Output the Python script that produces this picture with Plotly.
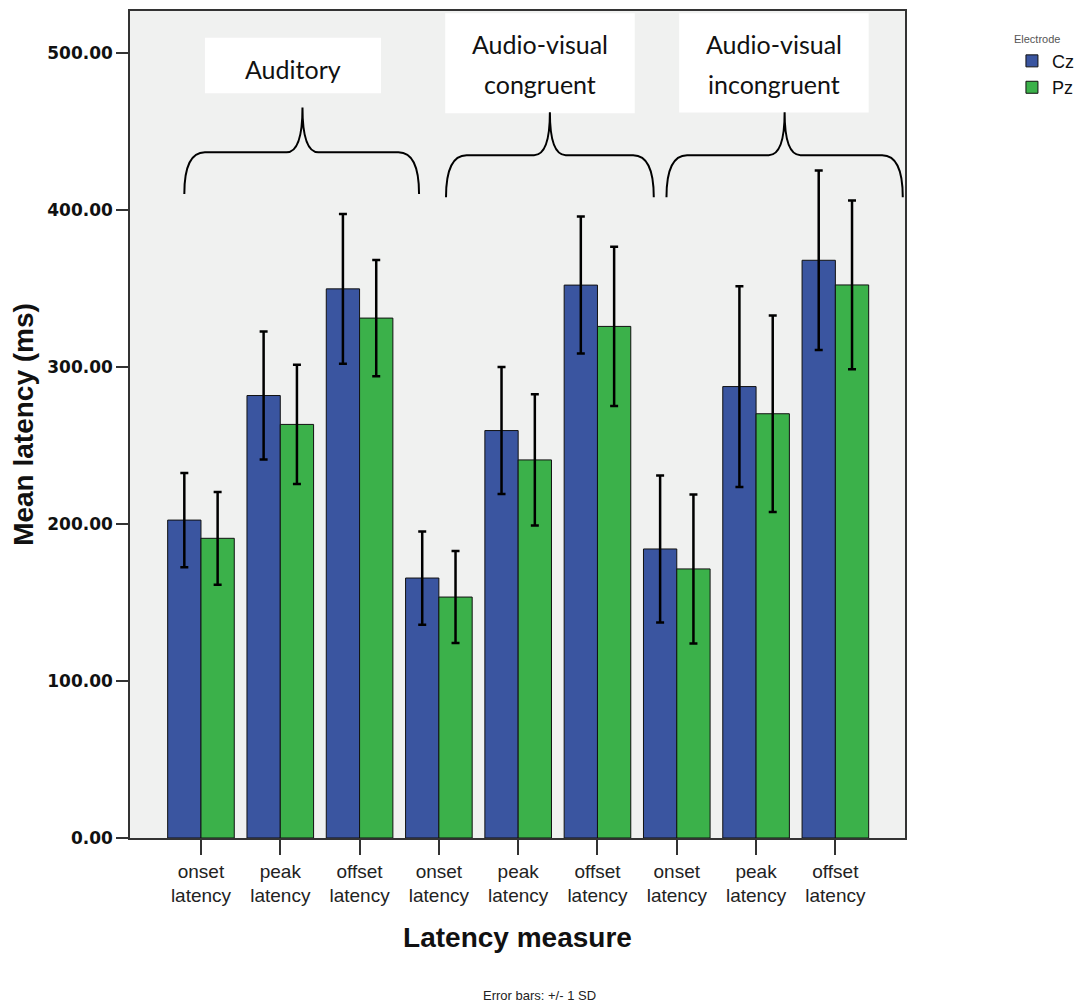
import plotly.graph_objects as go

# ---- data ----
measure_labels = ["onset<br>latency", "peak<br>latency", "offset<br>latency",
                  "onset<br>latency", "peak<br>latency", "offset<br>latency",
                  "onset<br>latency", "peak<br>latency", "offset<br>latency"]
cz_mean = [202.4, 281.7, 349.6, 165.5, 259.4, 352.0, 184.0, 287.4, 367.8]
pz_mean = [190.8, 263.3, 331.0, 153.4, 240.7, 325.7, 171.3, 270.1, 352.1]
cz_sd = [30.0, 40.8, 47.6, 29.7, 40.4, 43.6, 46.8, 63.9, 57.2]
pz_sd = [29.5, 38.0, 37.0, 29.3, 41.8, 50.7, 47.4, 62.6, 53.7]
y_ticks = [0, 100, 200, 300, 400, 500]

group_lines = [["Auditory"], ["Audio-visual", "congruent"], ["Audio-visual", "incongruent"]]
group_center = [1.16, 4.27, 7.22]
box_left = [0.05, 3.08, 6.03]
box_right = [2.27, 5.47, 8.42]
box_top = [509.5, 525.0, 525.0]
box_bottom = [474.1, 461.4, 461.9]
line_y = [[489.7], [505.4, 480.0], [505.4, 480.0]]

brace_left = [-0.21, 3.09, 5.87]
brace_right = [2.75, 5.71, 8.85]
brace_tip = [1.28, 4.40, 7.36]
brace_bottom = [410.0, 408.0, 408.0]
brace_mid = [436.5, 434.7, 434.7]
brace_top = [465.0, 462.0, 462.0]

CZ_COLOR = "#3A55A0"
PZ_COLOR = "#3BB14A"
x_pos = list(range(len(measure_labels)))

fig = go.Figure()
fig.add_bar(x=x_pos, y=cz_mean, name="Cz",
            marker=dict(color=CZ_COLOR, line=dict(color="#111", width=1)),
            error_y=dict(type="data", array=cz_sd, color="black", thickness=2.5, width=4))
fig.add_bar(x=x_pos, y=pz_mean, name="Pz",
            marker=dict(color=PZ_COLOR, line=dict(color="#111", width=1)),
            error_y=dict(type="data", array=pz_sd, color="black", thickness=2.5, width=4))

shapes = []
annotations = []
for i in range(3):
    shapes.append(dict(type="rect", xref="x", yref="y",
                       x0=box_left[i], x1=box_right[i], y0=box_bottom[i], y1=box_top[i],
                       fillcolor="white", line=dict(width=0), layer="above"))
    L, R, M = brace_left[i], brace_right[i], brace_tip[i]
    yb, ym, yt = brace_bottom[i], brace_mid[i], brace_top[i]
    c, d = 0.26, 0.2
    path = (f"M {L},{yb} Q {L},{ym} {L+c},{ym} L {M-d},{ym} Q {M},{ym} {M},{yt} "
            f"Q {M},{ym} {M+d},{ym} L {R-c},{ym} Q {R},{ym} {R},{yb}")
    shapes.append(dict(type="path", xref="x", yref="y", path=path,
                       line=dict(color="black", width=2), fillcolor="rgba(0,0,0,0)",
                       layer="above"))
    for txt, yy in zip(group_lines[i], line_y[i]):
        annotations.append(dict(x=group_center[i], y=yy, xref="x", yref="y", text=txt,
                                showarrow=False,
                                font=dict(family="Lato, Open Sans, sans-serif", size=25, color="#111")))

annotations.append(dict(x=0.529, y=-0.19, xref="paper", yref="paper", yanchor="middle",
                        text="Error bars: +/- 1 SD", showarrow=False,
                        font=dict(family="Liberation Sans, Arial", size=13, color="#222")))

fig.update_layout(
    width=1081, height=1000,
    margin=dict(l=122, r=184, t=1, b=170),
    paper_bgcolor="white", plot_bgcolor="#F0F1F0",
    barmode="group", bargap=0.16, bargroupgap=0,
    shapes=shapes, annotations=annotations,
    legend=dict(x=1.138, y=0.979, xanchor="left", yanchor="top",
                title=dict(text="Electrode", font=dict(family="Liberation Sans, Arial", size=11, color="#555")),
                font=dict(family="Liberation Sans, Arial", size=18, color="#111"),
                bgcolor="rgba(0,0,0,0)"),
    xaxis=dict(range=[-0.895, 8.878], tickvals=x_pos, ticktext=measure_labels,
               ticks="outside", ticklen=15, tickwidth=1.5, tickcolor="#333",
               showline=True, linecolor="#333", linewidth=1.5, mirror=True,
               showgrid=False, zeroline=False,
               tickfont=dict(family="Liberation Sans, Arial", size=19, color="#222"),
               title=dict(text="Latency measure", standoff=22,
                          font=dict(family="Liberation Sans, Arial", size=28, color="#111", weight="bold"))),
    yaxis=dict(range=[0, 526.5], tickvals=y_ticks, tickformat=".2f",
               ticks="outside", ticklen=12, tickwidth=1.5, tickcolor="#333",
               showline=True, linecolor="#333", linewidth=1.5, mirror=True,
               showgrid=False, zeroline=False,
               tickfont=dict(family="DejaVu Sans, Liberation Sans", size=17, color="#111", weight="bold"),
               title=dict(text="Mean latency (ms)", standoff=12,
                          font=dict(family="Liberation Sans, Arial", size=28, color="#111", weight="bold"))),
    showlegend=True,
)

fig.write_html("out.html")
